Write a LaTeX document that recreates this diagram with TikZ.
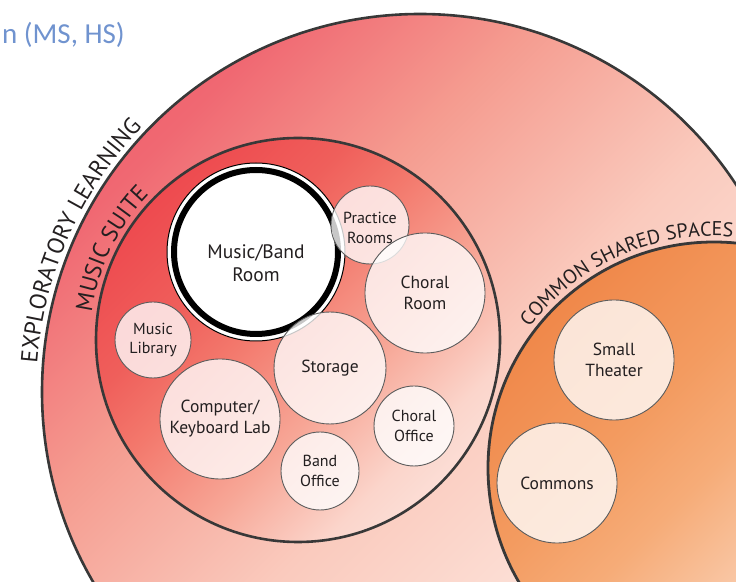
\documentclass[tikz,border=0pt]{standalone}
\usepackage{fontspec}
\setmainfont{PT Sans}
\newfontfamily\titlefont{Carlito}
\usetikzlibrary{decorations.text}
\definecolor{ink}{HTML}{231F20}
\definecolor{bord}{HTML}{383838}
\definecolor{rbord}{HTML}{5C5C5C}
\definecolor{titleblue}{HTML}{7093CF}
% outer (exploratory learning)
\definecolor{oA}{HTML}{EB4A5C}
\definecolor{oB}{HTML}{EE5E6A}
\definecolor{oC}{HTML}{F06872}
\definecolor{oD}{HTML}{F59C90}
\definecolor{oE}{HTML}{FACABD}
\definecolor{oF}{HTML}{FDE6DE}
\definecolor{oG}{HTML}{FFF6F2}
% music suite
\definecolor{mA}{HTML}{EC424A}
\definecolor{mB}{HTML}{EE4A4F}
\definecolor{mC}{HTML}{EF5F5B}
\definecolor{mD}{HTML}{F3786C}
\definecolor{mE}{HTML}{F7A696}
\definecolor{mF}{HTML}{FBD5CB}
\definecolor{mG}{HTML}{FDEEEA}
\definecolor{mH}{HTML}{FFF6F3}
% common shared spaces
\definecolor{cA}{HTML}{EE7D3C}
\definecolor{cB}{HTML}{F0884A}
\definecolor{cC}{HTML}{F39B60}
\definecolor{cD}{HTML}{F6AC78}
\definecolor{cE}{HTML}{F9C5A2}
\definecolor{cF}{HTML}{FCE0CC}
\definecolor{cG}{HTML}{FFF2E8}
\pgfdeclarehorizontalshading{outerg}{100bp}{color(0bp)=(oA); color(20bp)=(oB); color(26bp)=(oC); color(38bp)=(oD); color(52bp)=(oE); color(68bp)=(oF); color(100bp)=(oG)}
\pgfdeclarehorizontalshading{suiteg}{100bp}{color(0bp)=(mA); color(25bp)=(mB); color(37bp)=(mC); color(45bp)=(mD); color(58bp)=(mE); color(70bp)=(mF); color(85bp)=(mG); color(100bp)=(mH)}
\pgfdeclarehorizontalshading{commong}{100bp}{color(0bp)=(cA); color(25bp)=(cB); color(40bp)=(cC); color(50bp)=(cD); color(60bp)=(cE); color(75bp)=(cF); color(100bp)=(cG)}
\newcommand\myLab{\fontsize{17.5}{21}\selectfont}
\newcommand\mySmall{\fontsize{16}{19.5}\selectfont}
\newcommand\myBig{\fontsize{19.5}{23}\selectfont}
\newcommand\myArc{\fontsize{23.5}{23.5}\selectfont}
\newcommand\myArcS{\fontsize{20}{20}\selectfont}
\begin{document}
\begin{tikzpicture}[x=1pt,y=1pt,
  zone/.style={shade, draw=bord, line width=2.6pt, shading angle=-45},
  room/.style={circle, draw=rbord, line width=0.9pt, fill=white, fill opacity=0.78,
    text opacity=1, text=ink, inner sep=0pt, align=center},
  midroom/.style={room, font=\myLab},
  smallroom/.style={room, font=\mySmall},
  roomtext/.style={align=center, text=ink, inner sep=0pt},
  arclabel/.style={decorate, decoration={text along path, text align=center, text color=ink}}]
\useasboundingbox (0,0) rectangle (736,581);
% zones
\path[zone, shading=outerg] (420,189) circle[radius=378];
\path[zone, shading=suiteg] (298,241) circle[radius=202];
\path[zone, shading=commong, line width=2.8pt] (714,113) circle[radius=226];
% zone labels
\path[arclabel, decoration={text={|\myArc|EXPLORATORY LEARNING}}]
  (420,189) ++(186:384) arc[start angle=186, end angle=126, radius=384];
\path[arclabel, decoration={text={|\myArc|MUSIC SUITE}}]
  (298,241) ++(184:208) arc[start angle=184, end angle=124, radius=208];
\path[arclabel, decoration={text={|\myArcS|COMMON SHARED SPACES}}]
  (714,113) ++(149:232) arc[start angle=149, end angle=79, radius=232];
% music / band room
\node[circle, draw=black, line width=1pt, fill=white, minimum size=178pt,
  inner sep=0pt] (band) at (256,329) {};
\draw[line width=6pt] (band.center) circle[radius=82];
\node[roomtext, font=\myBig] (bandtext)
  at ([yshift=-11pt]band.center) {Music/Band\\Room};
% rooms
\node[smallroom, minimum size=78pt] (practice) at (370,356) {};
\node[roomtext, font=\mySmall] (practicetext) at ([yshift=-3pt]practice.center) {Practice\\Rooms};
\node[midroom, minimum size=120pt] (choral) at (425,288) {Choral\\Room};
\node[midroom, minimum size=112pt] (storage) at (330,213) {Storage};
\node[smallroom, minimum size=76pt] (library) at (153,241) {Music\\Library};
\node[midroom, minimum size=120pt] (lab) at (220,162) {Computer/\\Keyboard Lab};
\node[smallroom, minimum size=78pt] (bandoffice) at (320,110) {Band\\Office};
\node[smallroom, minimum size=80pt] (choraloffice) at (414,155) {Choral\\Office};
\node[midroom, minimum size=120pt] (theater) at (614,221) {Small\\Theater};
\node[midroom, minimum size=120pt] (commons) at (557,98) {Commons};
% title fragment
\node[anchor=base east, inner sep=0pt, text=titleblue, font=\titlefont\fontsize{29}{29}\selectfont] (title) at (125,537.5) {n (MS, HS)};
\end{tikzpicture}
\end{document}
